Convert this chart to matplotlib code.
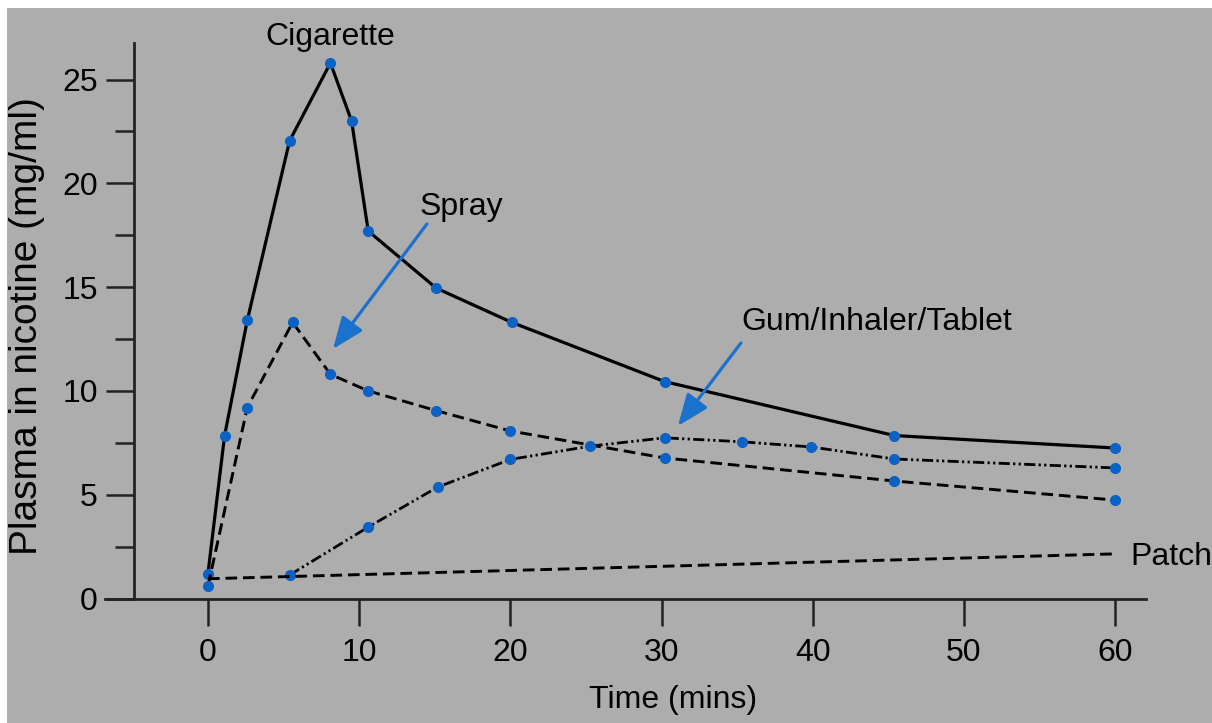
import matplotlib
matplotlib.use("Agg")
import matplotlib.pyplot as plt
from matplotlib.patches import Rectangle
from matplotlib.ticker import MultipleLocator

plt.rcParams['font.family'] = ['Liberation Sans', 'DejaVu Sans']

# data (time in mins, plasma nicotine)
cig_t = [0, 1.1, 2.6, 5.4, 8.1, 9.5, 10.6, 15.1, 20.1, 30.2, 45.4, 60]
cig_v = [1.2, 7.85, 13.4, 22.05, 25.8, 23.0, 17.7, 14.95, 13.3, 10.45, 7.85, 7.25]

spray_t = [0, 2.6, 5.6, 8.1, 10.6, 15.1, 20.0, 30.2, 45.4, 60]
spray_v = [0.6, 9.2, 13.3, 10.8, 10.0, 9.05, 8.07, 6.77, 5.66, 4.74]

gum_t = [5.4, 10.6, 15.2, 20.0, 25.3, 30.2, 35.3, 39.9, 45.4, 60]
gum_v = [1.13, 3.44, 5.37, 6.7, 7.34, 7.74, 7.55, 7.3, 6.72, 6.29]

patch_t = [0, 60]
patch_v = [0.95, 2.15]

x_ticks = [0, 10, 20, 30, 40, 50, 60]
y_ticks = [0, 5, 10, 15, 20, 25]

W, H = 1212, 723
gray = '#adadad'
blue = '#0b62c4'
arrow_blue = '#1a72cc'
fs = 23

fig = plt.figure(figsize=(W / 100, H / 100), dpi=100, facecolor='white')
fig.patches.append(Rectangle((7 / W, 0), 1 - 7 / W, 1 - 8 / H, transform=fig.transFigure,
                             facecolor=gray, edgecolor='none', zorder=-5))

ax = fig.add_axes([105 / W, (H - 598.5) / H, (1146 - 105) / W, (598.5 - 43) / H])
ax.set_facecolor('none')
ax.set_xlim(-6.81, 62.04)
ax.set_ylim(0, 26.76)

ax.spines['top'].set_visible(False)
ax.spines['right'].set_visible(False)
ax.spines['left'].set_position(('data', -4.89))
for s in ['left', 'bottom']:
    ax.spines[s].set_linewidth(2.0)
    ax.spines[s].set_color('#222222')

mk = dict(marker='o', ms=7, mfc=blue, mec=blue)
ax.plot(cig_t, cig_v, color='black', lw=2.3, **mk, zorder=3)
ax.plot(spray_t, spray_v, color='black', lw=2.1, dashes=(4, 2), **mk, zorder=3)
ax.plot(gum_t, gum_v, color='black', lw=2.0, dashes=(4, 1.2, 0.8, 1.2, 0.8, 1.2), **mk, zorder=3)
ax.plot(patch_t, patch_v, color='black', lw=2.1, dashes=(4, 2), zorder=3)

ax.set_xticks(x_ticks)
ax.set_yticks(y_ticks)
ax.yaxis.set_minor_locator(MultipleLocator(2.5))
ax.tick_params(axis='x', direction='out', length=19.5, width=1.8, pad=9, labelsize=fs, color='#222222')
ax.tick_params(axis='y', which='major', direction='out', length=20, width=1.8, pad=6, labelsize=fs, color='#222222')
ax.tick_params(axis='y', which='minor', direction='out', length=14, width=1.8, color='#222222')

ax.text(8.07, 26.66, 'Cigarette', fontsize=fs, ha='center', va='baseline')
ax.text(14.02, 18.47, 'Spray', fontsize=fs, ha='left', va='baseline')
ax.text(35.25, 12.93, 'Gum/Inhaler/Tablet', fontsize=fs, ha='left', va='baseline')
ax.text(60.98, 1.61, 'Patch', fontsize=fs, ha='left', va='baseline', clip_on=False)

arrow = dict(arrowstyle='-|>,head_length=0.75,head_width=0.3', color=arrow_blue, lw=2.3,
             mutation_scale=26, shrinkA=0, shrinkB=0)
ax.annotate('', xy=(8.27, 12.02), xytext=(14.48, 18.04), arrowprops=arrow)
ax.annotate('', xy=(31.08, 8.31), xytext=(35.25, 12.31), arrowprops=arrow)

fig.text(673 / W, 1 - 708 / H, 'Time (mins)', fontsize=fs, ha='center', va='baseline')
fig.text(27 / W, 1 - 326 / H, 'Plasma in nicotine (mg/ml)', fontsize=28, rotation=90,
         ha='center', va='center')

fig.savefig('out.png', dpi=100, facecolor='white')
